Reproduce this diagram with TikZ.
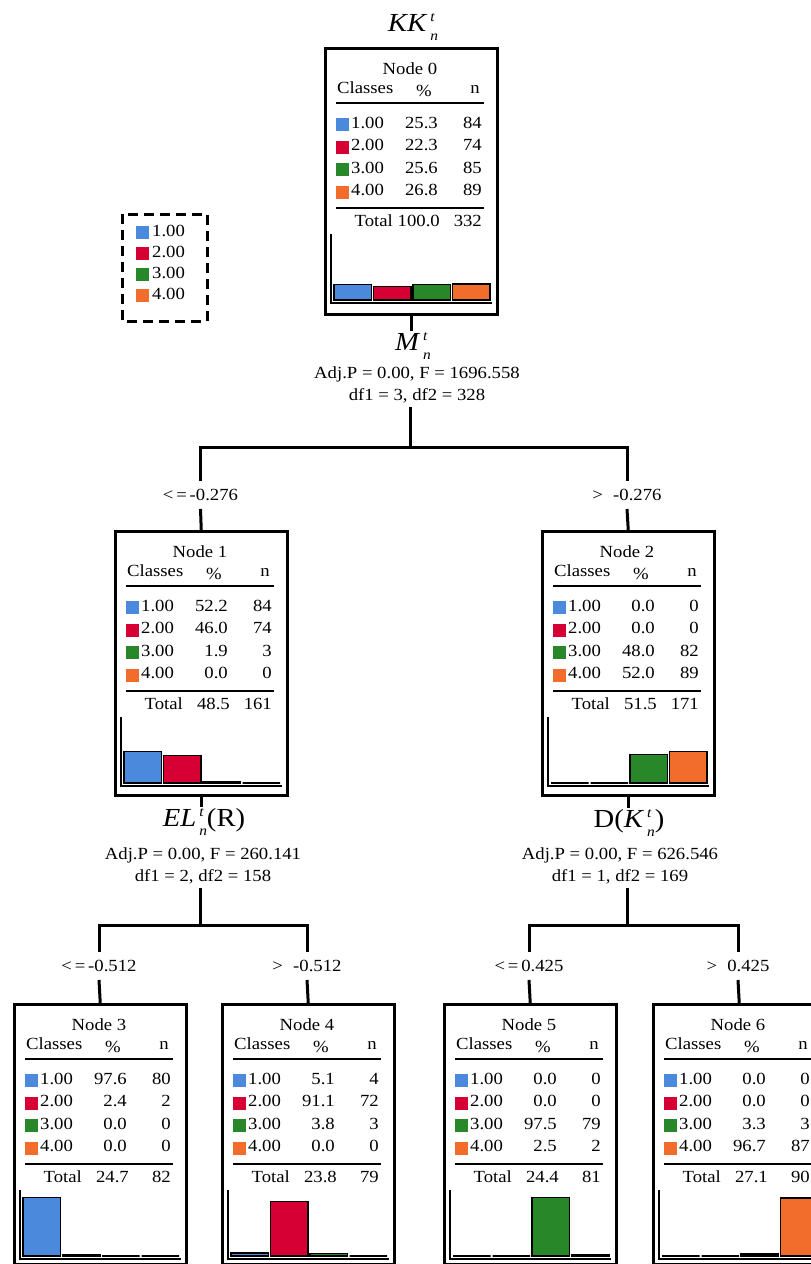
\documentclass[tikz,border=0pt]{standalone}
\usepackage{fontspec}
\setmainfont[FakeStretch=1.1]{Liberation Serif}
\usetikzlibrary{positioning}

\definecolor{cls1}{RGB}{74,137,220}
\definecolor{cls2}{RGB}{214,0,52}
\definecolor{cls3}{RGB}{40,135,40}
\definecolor{cls4}{RGB}{242,108,44}

\tikzset{
  treebox/.style={draw, line width=2.5pt, minimum width=172pt, inner sep=0pt, anchor=north west},
  tabtext/.style={font=\fontsize{17}{21}\selectfont, inner sep=0pt},
  heading/.style={font=\fontsize{26}{28}\selectfont, inner xsep=2pt, inner ysep=1pt},
  stats/.style={font=\fontsize{17}{22}\selectfont, align=center, inner xsep=2pt, inner ysep=4pt},
  cond/.style={font=\fontsize{17}{21}\selectfont, inner xsep=2pt, inner ysep=8pt},
  branch/.style={line width=3pt},
  legendbox/.style={line width=3pt, dash pattern=on 10pt off 6pt}
}

% variable name with stacked t and n
\newcommand{\stfont}{\fontsize{14}{14}\selectfont\itshape}
\newcommand{\tn}[1]{\textit{#1}\kern3pt\rlap{\raisebox{10.5pt}{\stfont t}}\raisebox{-8.5pt}{\stfont n}}

% one tree node: name, left, top, number, pct/n list, total pct, total n, height
\newcommand{\classbox}[8]{%
  \node[treebox, minimum height=#8pt] (#1) at (#2,#3) {};
  \node[tabtext] (#1-title) at ([shift={(86,22)}]#1.north west) {Node #4};
  \node[tabtext, anchor=mid west] (#1-cl) at ([shift={(13,44)}]#1.north west) {Classes};
  \node[tabtext] (#1-pc) at ([shift={(100,44)}]#1.north west) {\%};
  \node[tabtext, anchor=mid east] (#1-nn) at ([shift={(156,44)}]#1.north west) {n};
  \draw[line width=1.5pt] ([shift={(12,56)}]#1.north west) -- ++(148,0);
  \foreach \p/\k [count=\i] in {#5} {
    \pgfmathsetmacro{\ry}{56.5+22.5*\i}
    \pgfmathsetmacro{\bx}{10+39.5*(\i-1)}
    \fill[cls\i] ([shift={(12,\ry-8)}]#1.north west) rectangle ++(13,13);
    \node[tabtext, anchor=mid west] (#1-c\i) at ([shift={(27,\ry)}]#1.north west) {\i.00};
    \node[tabtext, anchor=mid east] (#1-p\i) at ([shift={(114,\ry)}]#1.north west) {\p};
    \node[tabtext, anchor=mid east] (#1-n\i) at ([shift={(158,\ry)}]#1.north west) {\k};
    % bar of the chart
    \draw[line width=1.2pt, fill=cls\i] ([shift={(\bx,253)}]#1.north west) rectangle ++(37.5,-0.6*\p);
  }
  \draw[line width=1.5pt] ([shift={(12,161)}]#1.north west) -- ++(148,0);
  \node[tabtext, anchor=mid east] (#1-tot) at ([shift={(69,177)}]#1.north west) {Total};
  \node[tabtext, anchor=mid east] (#1-tp) at ([shift={(116,177)}]#1.north west) {#6};
  \node[tabtext, anchor=mid east] (#1-tn) at ([shift={(158,177)}]#1.north west) {#7};
  % chart axes
  \draw[line width=1.2pt] ([shift={(7,187)}]#1.north west) -- ++(0,69) -- ++(161,0);
}

\begin{document}
\begin{tikzpicture}[x=1pt,y=-1pt]
  \useasboundingbox (0,0) rectangle (811,1264);
  \clip (0,0) rectangle (811,1264);

  % Legend
  \draw[legendbox] (122,214) rectangle (207,321);
  \foreach \i in {1,...,4} {
    \fill[cls\i] (136,213+21*\i-8) rectangle ++(13,13);
    \node[tabtext, anchor=mid west] (leg\i) at (152,213+21*\i) {\i.00};
  }

  % Tree nodes
  \classbox{n0}{324}{47}{0}{25.3/84,22.3/74,25.6/85,26.8/89}{100.0}{332}{266}
  \classbox{n1}{114}{530}{1}{52.2/84,46.0/74,1.9/3,0.0/0}{48.5}{161}{264}
  \classbox{n2}{541}{530}{2}{0.0/0,0.0/0,48.0/82,52.0/89}{51.5}{171}{264}
  \classbox{n3}{13}{1003}{3}{97.6/80,2.4/2,0.0/0,0.0/0}{24.7}{82}{260}
  \classbox{n4}{221}{1003}{4}{5.1/4,91.1/72,3.8/3,0.0/0}{23.8}{79}{260}
  \classbox{n5}{443}{1003}{5}{0.0/0,0.0/0,97.5/79,2.5/2}{24.4}{81}{260}
  \classbox{n6}{652}{1003}{6}{0.0/0,0.0/0,3.3/3,96.7/87}{27.1}{90}{260}

  % Title and split variables
  \node[heading] (t0) at (413,27) {\tn{KK}};
  \node[heading] (v0) at (413,346) {\tn{M}};
  \node[stats] (s0) at (417,385) {Adj.P = 0.00, F = 1696.558\\df1 = 3, df2 = 328};
  \node[heading] (v1) at (204,822) {\tn{EL}(R)};
  \node[stats] (s1) at (203,866) {Adj.P = 0.00, F = 260.141\\df1 = 2, df2 = 158};
  \node[heading] (v2) at (629,823) {D(\tn{K})};
  \node[stats] (s2) at (620,866) {Adj.P = 0.00, F = 626.546\\df1 = 1, df2 = 169};

  % Split conditions
  \node[cond] (c1) at (200.5,495) {<\,=\,-0.276};
  \node[cond] (c2) at (627,495) {>\hspace{0.6em}-0.276};
  \node[cond] (c3) at (99,966) {<\,=\,-0.512};
  \node[cond] (c4) at (307,966) {>\hspace{0.6em}-0.512};
  \node[cond] (c5) at (529,966) {<\,=\,0.425};
  \node[cond] (c6) at (738,966) {>\hspace{0.6em}0.425};

  % Branches
  \coordinate (j0) at (410,447);
  \coordinate (j1) at (200.5,925);
  \coordinate (j2) at (627,925);
  \draw[branch] (n0.south) -- (v0.north -| n0.south);
  \draw[branch] (j0 |- s0.south) -- (j0) -| (c1.north);
  \draw[branch] (j0) -| (c2.north);
  \draw[branch] (n1.south) -- (v1.north -| n1.south);
  \draw[branch] (j1 |- s1.south) -- (j1) -| (c3.north);
  \draw[branch] (j1) -| (c4.north);
  \draw[branch] (n2.south) -- (v2.north -| n2.south);
  \draw[branch] (j2 |- s2.south) -- (j2) -| (c5.north);
  \draw[branch] (j2) -| (c6.north);
  \draw[branch] (c1.south) -- (n1.north);
  \draw[branch] (c2.south) -- (n2.north);
  \draw[branch] (c3.south) -- (n3.north);
  \draw[branch] (c4.south) -- (n4.north);
  \draw[branch] (c5.south) -- (n5.north);
  \draw[branch] (c6.south) -- (n6.north);
\end{tikzpicture}
\end{document}
